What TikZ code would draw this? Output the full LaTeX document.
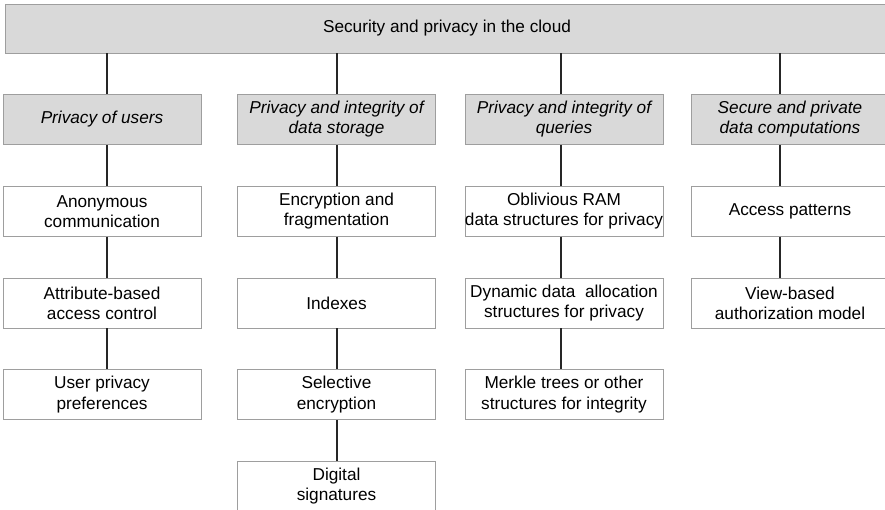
\documentclass[tikz,border=0pt]{standalone}
\usepackage{fontspec}
\setmainfont{Liberation Sans}
\usetikzlibrary{positioning, calc}
\newcommand{\blkfont}{\fontsize{9.8}{11.4}\selectfont}
\tikzset{
    topblk/.style={draw=black!38, fill=black!15, minimum width=17.68cm, minimum height=0.98cm,
                   inner sep=0pt, font=\blkfont},
    catblk/.style={draw=black!38, fill=black!15, align=center, minimum width=3.96cm,
                   minimum height=1.0cm, inner sep=0pt, font=\blkfont\itshape},
    itemblk/.style={draw=black!38, fill=white, align=center, minimum width=3.96cm,
                    minimum height=1.0cm, inner sep=0pt, font=\blkfont},
    link/.style={line width=1.2pt, black!85},
}

\begin{document}
\begin{tikzpicture}[x=0.02cm, y=-0.02cm, node distance=0.82cm]
    \clip (0,0) rectangle (885,510);
    \fill[white] (0,0) rectangle (885,510);
    \node[topblk] (cloud) at (447,28.5) {Security and privacy in the cloud};
    % areas
    \node[catblk] (users) at (102,119.5) {Privacy of users};
    \node[catblk] (storage) at (336.5,119.5) {Privacy and integrity of\\data storage};
    \node[catblk] (queries) at (564,119.5) {Privacy and integrity of\\queries};
    \node[catblk] (comp) at (790,119.5) {Secure and private\\data computations};
    % privacy of users
    \node[itemblk, below=of users] (anon) {Anonymous\\communication};
    \node[itemblk, below=of anon] (abac) {Attribute-based\\access control};
    \node[itemblk, below=of abac] (prefs) {User privacy\\preferences};
    % data storage
    \node[itemblk, below=of storage] (encfrag) {Encryption and\\fragmentation};
    \node[itemblk, below=of encfrag] (indexes) {Indexes};
    \node[itemblk, below=of indexes] (selenc) {Selective\\encryption};
    \node[itemblk, below=of selenc] (signs) {Digital\\signatures};
    % queries
    \node[itemblk, below=of queries] (oram) {Oblivious RAM\\data structures for privacy};
    \node[itemblk, below=of oram] (dynalloc) {Dynamic data\ \ allocation\\structures for privacy};
    \node[itemblk, below=of dynalloc] (merkle) {Merkle trees or other\\structures for integrity};
    % computations
    \node[itemblk, below=of comp] (access) {Access patterns};
    \node[itemblk, below=of access] (views) {View-based\\authorization model};

    \foreach \a/\b/\dx in {cloud/users/5, users/anon/5, anon/abac/5, abac/prefs/5,
        cloud/storage/0.5, storage/encfrag/0.5, encfrag/indexes/0.5, indexes/selenc/0.5, selenc/signs/0.5,
        cloud/queries/-3, queries/oram/-3, oram/dynalloc/-3, dynalloc/merkle/-3,
        cloud/comp/-10, comp/access/-10, access/views/-10}
        \draw[link] ($(\b.north |- \a.south)+(\dx,0)$) -- ($(\b.north)+(\dx,0)$);
\end{tikzpicture}
\end{document}
